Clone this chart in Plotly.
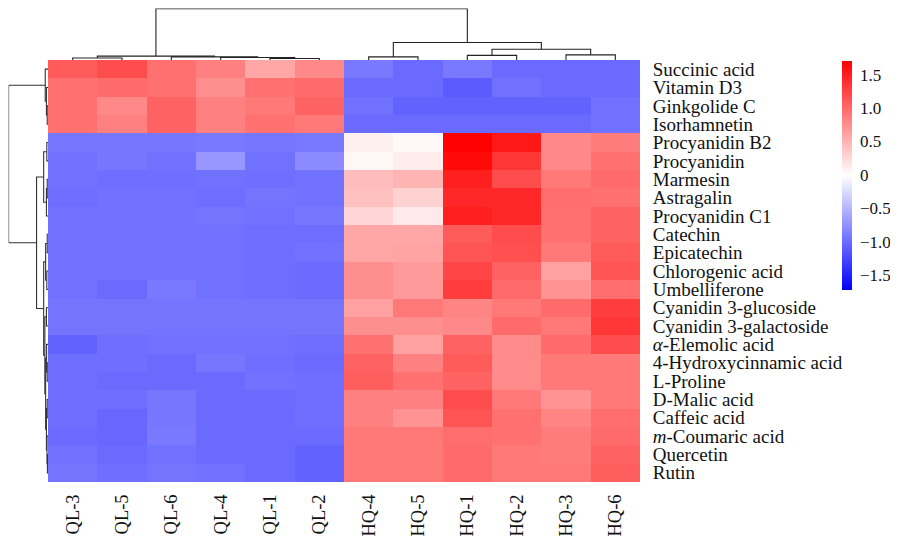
import plotly.graph_objects as go

samples = ["QL-3", "QL-5", "QL-6", "QL-4", "QL-1", "QL-2",
           "HQ-4", "HQ-5", "HQ-1", "HQ-2", "HQ-3", "HQ-6"]

metabolites = ["Succinic acid", "Vitamin D3", "Ginkgolide C", "Isorhamnetin",
               "Procyanidin B2", "Procyanidin", "Marmesin", "Astragalin",
               "Procyanidin C1", "Catechin", "Epicatechin", "Chlorogenic acid",
               "Umbelliferone", "Cyanidin 3-glucoside", "Cyanidin 3-galactoside",
               "<i>α</i>-Elemolic acid", "4-Hydroxycinnamic acid", "L-Proline",
               "D-Malic acid", "Caffeic acid", "<i>m</i>-Coumaric acid",
               "Quercetin", "Rutin"]

values = [
    [1.10, 1.20, 0.95, 0.85, 0.60, 0.80, -0.90, -1.00, -0.90, -1.00, -1.00, -1.00],
    [0.95, 1.00, 0.95, 0.75, 0.95, 1.00, -1.00, -1.00, -1.10, -0.95, -1.00, -1.00],
    [0.95, 0.80, 1.05, 0.85, 0.90, 1.05, -0.95, -1.05, -1.05, -1.05, -1.05, -0.95],
    [0.95, 0.85, 1.05, 0.85, 0.95, 0.90, -1.00, -1.00, -1.00, -1.00, -1.00, -0.95],
    [-0.92, -0.92, -0.92, -0.90, -0.92, -0.90, 0.10, 0.05, 1.70, 1.55, 0.80, 0.88],
    [-0.95, -0.92, -0.95, -0.70, -0.95, -0.78, 0.06, 0.12, 1.65, 1.35, 0.80, 0.95],
    [-0.95, -0.97, -0.97, -0.95, -0.97, -0.95, 0.45, 0.50, 1.50, 1.20, 0.90, 1.00],
    [-0.97, -0.95, -0.95, -0.98, -0.93, -0.95, 0.42, 0.30, 1.45, 1.45, 0.98, 0.95],
    [-0.95, -0.95, -0.95, -0.93, -0.95, -0.92, 0.28, 0.15, 1.50, 1.45, 0.95, 1.05],
    [-0.95, -0.95, -0.95, -0.95, -0.97, -0.98, 0.60, 0.60, 1.10, 1.20, 0.95, 1.05],
    [-0.95, -0.95, -0.95, -0.95, -0.97, -0.95, 0.60, 0.62, 1.15, 1.18, 0.90, 1.10],
    [-0.95, -0.95, -0.95, -0.95, -0.98, -1.00, 0.75, 0.68, 1.25, 1.05, 0.63, 1.15],
    [-0.95, -1.00, -0.90, -0.95, -0.98, -1.00, 0.76, 0.68, 1.30, 1.00, 0.73, 0.98],
    [-0.93, -0.93, -0.93, -0.93, -0.93, -0.93, 0.63, 0.90, 0.82, 0.90, 1.00, 1.30],
    [-0.93, -0.93, -0.93, -0.93, -0.93, -0.93, 0.76, 0.76, 0.80, 1.00, 0.90, 1.35],
    [-1.05, -0.97, -0.95, -0.95, -0.95, -0.98, 0.95, 0.63, 1.05, 0.78, 1.00, 1.20],
    [-0.97, -0.97, -1.00, -0.92, -0.97, -1.00, 1.05, 0.85, 1.10, 0.78, 0.90, 0.90],
    [-0.97, -1.00, -1.00, -1.00, -0.95, -0.98, 1.08, 0.95, 1.05, 0.78, 0.90, 0.90],
    [-0.97, -0.97, -0.92, -1.00, -1.00, -0.98, 0.85, 0.85, 1.20, 0.90, 0.73, 0.90],
    [-0.97, -1.02, -0.92, -1.00, -1.00, -0.97, 0.85, 0.73, 1.15, 0.95, 0.82, 0.98],
    [-1.00, -1.02, -0.90, -1.00, -1.00, -1.00, 0.90, 0.90, 0.98, 0.95, 0.88, 1.00],
    [-0.95, -1.00, -0.95, -1.00, -1.00, -1.05, 0.90, 0.90, 1.00, 0.90, 0.88, 1.05],
    [-0.93, -0.97, -0.93, -0.95, -1.00, -1.05, 0.90, 0.90, 1.00, 0.90, 0.90, 1.08],
]

colorbar_ticks = [-1.5, -1.0, -0.5, 0, 0.5, 1.0, 1.5]
colorbar_ticktext = ["\u22121.5", "\u22121.0", "\u22120.5", "0", "0.5", "1.0", "1.5"]

# Column dendrogram (merge height, left, right); root height = 1
col_tree = (1.0,
            (0.075, (0.04, "QL-3", "QL-5"),
                    (0.06, "QL-6", (0.05, "QL-4", (0.03, "QL-1", "QL-2")))),
            (0.34, (0.06, "HQ-4", "HQ-5"),
                   (0.21, (0.09, "HQ-1", "HQ-2"), (0.10, "HQ-3", "HQ-6"))))

M = metabolites
row_tree = (1.0,
            (0.07, M[0], (0.04, M[1], (0.02, M[2], M[3]))),
            (0.29,
             (0.11, (0.03, M[4], M[5]), (0.04, (0.02, M[6], M[7]), M[8])),
             (0.11,
              (0.06, (0.02, M[9], M[10]), (0.03, M[11], M[12])),
              (0.08, (0.04, M[13], M[14]),
                     (0.06, (0.035, M[15], (0.02, M[16], M[17])),
                            (0.04, (0.02, M[18], M[19]),
                                   (0.025, M[20], (0.015, M[21], M[22]))))))))


def dendro_segments(tree, index):
    xs, hs = [], []

    def walk(node):
        if isinstance(node, str):
            return float(index[node]), 0.0
        h, left, right = node
        p1, h1 = walk(left)
        p2, h2 = walk(right)
        xs.extend([p1, p1, p2, p2, None])
        hs.extend([h1, h, h, h2, None])
        return (p1 + p2) / 2, h

    walk(tree)
    return xs, hs


col_idx = {s: i for i, s in enumerate(samples)}
row_idx = {m: i for i, m in enumerate(metabolites)}
cx, ch = dendro_segments(col_tree, col_idx)
rx, rh = dendro_segments(row_tree, row_idx)

# The page body has an 8px margin, so the figure starts at page (8, 8).
OFF = 8
W, H = 890, 528
# plot area in page pixels: x 8..640, y 8..482
ML, MT = 0, 0
MR = W - (640 - OFF)
MB = H - (482 - OFF)
PW, PH = W - ML - MR, H - MT - MB


def px(xpage):
    return (xpage - OFF - ML) / PW


def py(ypage):
    return (H - MB - (ypage - OFF)) / PH


font_family = "Liberation Serif, Times New Roman, serif"

fig = go.Figure()
fig.add_trace(go.Heatmap(
    z=values, x=list(range(len(samples))), y=list(range(len(metabolites))),
    colorscale=[[0, "#0000FF"], [0.5, "#FFFFFF"], [1, "#FF0000"]],
    zmin=-1.71, zmax=1.71, xgap=0, ygap=0,
    colorbar=dict(
        x=px(842), xanchor="left", xpad=0,
        y=py(60.5), yanchor="top", ypad=0,
        len=228.5 / PH, lenmode="fraction", thickness=10, thicknessmode="pixels",
        outlinewidth=0, tickvals=colorbar_ticks, ticktext=colorbar_ticktext,
        ticks="outside", ticklen=5, tickcolor="rgba(0,0,0,0)",
        tickfont=dict(family=font_family, size=17, color="#111"),
    ),
    hoverongaps=False,
))

fig.add_trace(go.Scatter(x=cx, y=ch, mode="lines", xaxis="x", yaxis="y3",
                         line=dict(color="#222", width=1.1), hoverinfo="skip",
                         showlegend=False))
fig.add_trace(go.Scatter(x=rh, y=rx, mode="lines", xaxis="x2", yaxis="y",
                         line=dict(color="#333", width=1.1), hoverinfo="skip",
                         showlegend=False))

fig.update_layout(
    width=W, height=H, margin=dict(l=ML, r=MR, t=MT, b=MB, autoexpand=False),
    paper_bgcolor="white", plot_bgcolor="white",
    font=dict(family=font_family, size=19, color="#111"),
    xaxis=dict(domain=[px(48), 1], range=[-0.5, len(samples) - 0.5],
               tickvals=list(range(len(samples))), ticktext=samples,
               tickangle=-90, ticks="outside", ticklen=4,
               tickcolor="rgba(0,0,0,0)", showgrid=False, zeroline=False,
               showline=False, anchor="y", automargin=False,
               tickfont=dict(size=18.5)),
    yaxis=dict(domain=[0, py(60)], range=[len(metabolites) - 0.5, -0.5],
               tickvals=list(range(len(metabolites))), ticktext=metabolites,
               side="right", ticks="outside", ticklen=8,
               tickcolor="rgba(0,0,0,0)", showgrid=False, zeroline=False,
               showline=False, anchor="x", automargin=False,
               tickfont=dict(size=19)),
    xaxis2=dict(domain=[px(8.6), px(48)], range=[1.0, 0], visible=False,
                anchor="y"),
    yaxis3=dict(domain=[py(60), py(8.6)], range=[0, 1.0], visible=False,
                anchor="x"),
)

fig.write_html("out.html")
